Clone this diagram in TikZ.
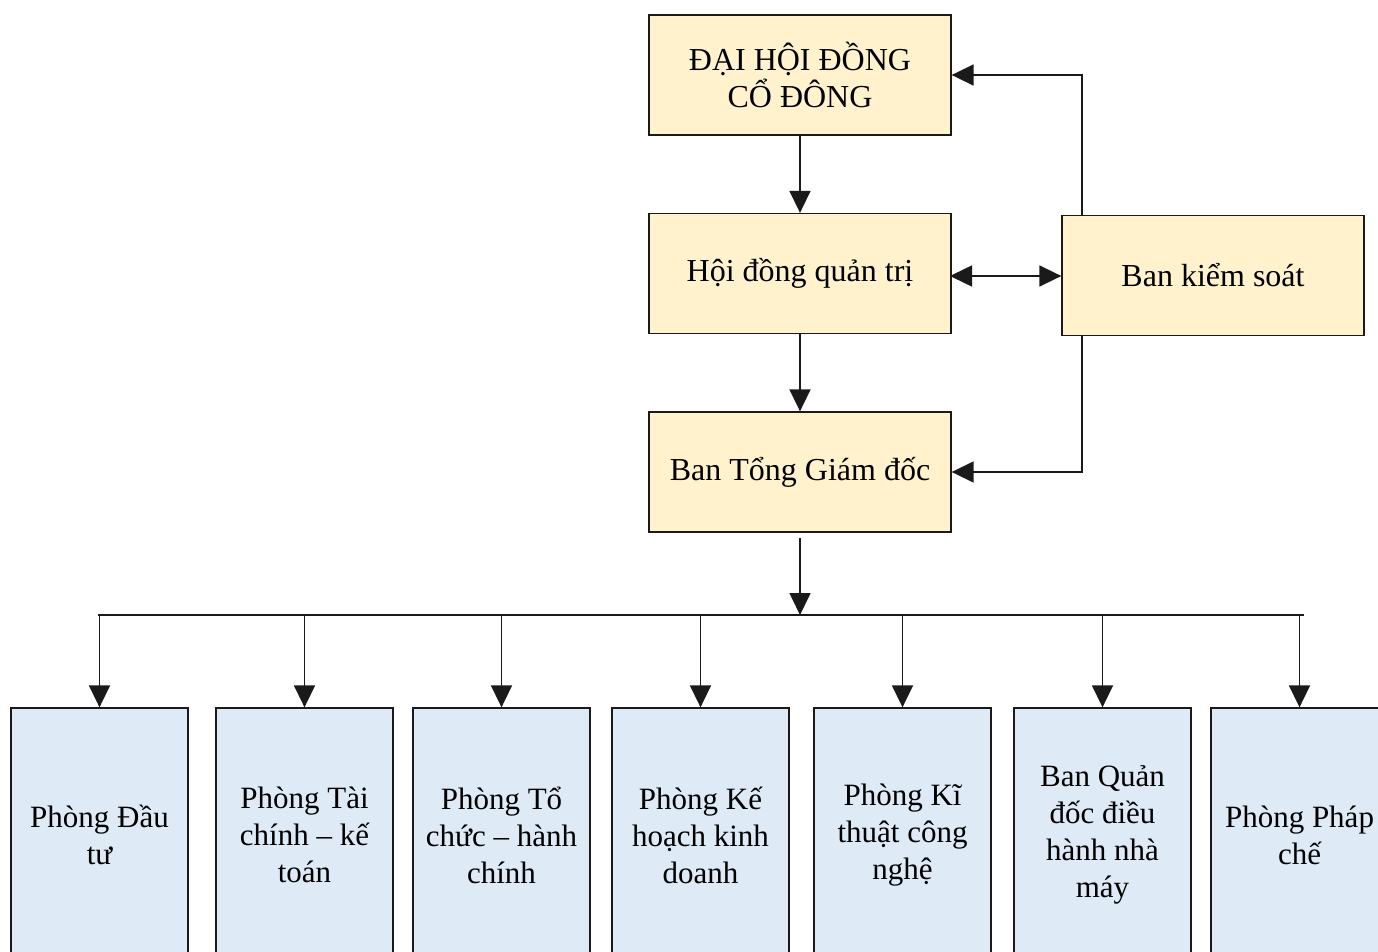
\documentclass[tikz,border=0pt]{standalone}
\usepackage{fontspec}
\setmainfont{Liberation Serif}
\usetikzlibrary{arrows.meta}
\definecolor{topfill}{HTML}{FFF2CC}
\definecolor{botfill}{HTML}{DEEAF6}
\definecolor{edgecol}{HTML}{1A1A1A}
\tikzset{
  topbox/.style={draw=edgecol, line width=1.3pt, fill=topfill, minimum width=302pt, minimum height=120pt, align=center, inner sep=2pt, font=\fontsize{32}{37}\selectfont},
  botbox/.style={draw=edgecol, line width=1.3pt, fill=botfill, minimum width=177pt, minimum height=254pt, align=center, inner sep=1pt, font=\fontsize{31}{37}\selectfont},
  conn/.style={draw=edgecol, line width=1.6pt},
  arr/.style={conn, -{Triangle[length=22pt,width=21pt]}},
  darr/.style={conn, {Triangle[length=22pt,width=21pt]}-{Triangle[length=22pt,width=21pt]}}
}
\begin{document}
\begin{tikzpicture}[x=1pt,y=-1pt]
\useasboundingbox (0,0) rectangle (1378,952);
\node[topbox] (dh) at (800,75) {ĐẠI HỘI ĐỒNG\\CỔ ĐÔNG};
\node[topbox] (hd) at (800,273.5) {\raisebox{-3pt}{Hội đồng quản trị}};
\node[topbox] (bks) at (1213,275.5) {\raisebox{-3pt}{Ban kiểm soát}};
\node[topbox] (tgd) at (800,472) {\raisebox{-3pt}{Ban Tổng Giám đốc}};

\node[botbox] (p1) at (99.5,835) {Phòng Đầu\\tư};
\node[botbox] (p2) at (304.5,835) {Phòng Tài\\chính – kế\\toán};
\node[botbox] (p3) at (501.5,835) {Phòng Tổ\\chức – hành\\chính};
\node[botbox] (p4) at (700.5,835) {Phòng Kế\\hoạch kinh\\doanh};
\node[botbox] (p5) at (902.5,835) {Phòng Kĩ\\thuật công\\nghệ};
\node[botbox] (p6) at (1102.5,835) {Ban Quản\\đốc điều\\hành nhà\\máy};
\node[botbox] (p7) at (1299.5,835) {Phòng Pháp\\chế};

\coordinate (busL) at (98,615);
\coordinate (busR) at (1304,615);
\coordinate (busM) at (800,615);
\coordinate (hdE) at (950,276);

\draw[arr] (dh.south) -- (hd.north);
\draw[arr] (hd.south) -- (tgd.north);
\draw[darr] (hdE) -- (bks.west |- hdE);
\draw[arr] (bks.north -| 1082,0) |- (dh.east);
\draw[arr] (bks.south -| 1082,0) |- (tgd.east);
\draw[arr] (tgd.south) ++(0,5) -- (busM);
\draw[conn] (busL) -- (busR);
\foreach \p in {p1,p2,p3,p4,p5,p6,p7}{
  \draw[arr] (busL -| \p.north) -- (\p.north);
}
\end{tikzpicture}
\end{document}
